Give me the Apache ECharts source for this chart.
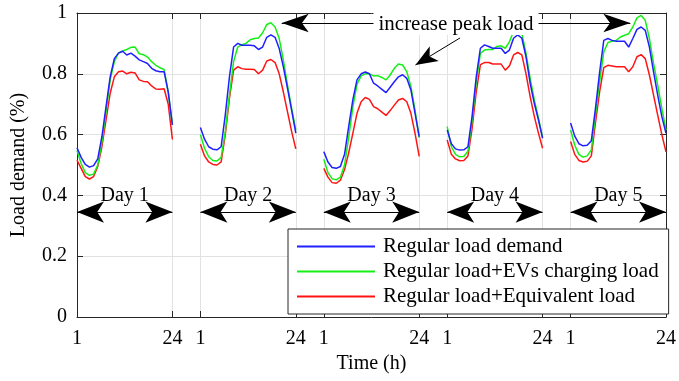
<!DOCTYPE html>
<html>
<head>
<meta charset="utf-8">
<script src="https://cdn.jsdelivr.net/npm/echarts@6/dist/echarts.min.js"></script>
<style>
  html, body { margin: 0; padding: 0; background: #fff; }
  #main { width: 679px; height: 381px; }
</style>
</head>
<body>
<div id="main"></div>
<script>
// hours of a day and the day names
var hours = [1, 2, 3, 4, 5, 6, 7, 8, 9, 10, 11, 12, 13, 14, 15, 16, 17, 18, 19, 20, 21, 22, 23, 24];
var days = ["Day 1", "Day 2", "Day 3", "Day 4", "Day 5"];
var xTickLabels = ["1", "24"];
var seriesNames = ["Regular load demand", "Regular load+EVs charging load", "Regular load+Equivalent load"];

// Regular load demand, one row per day
var regularLoad = [
  [0.557, 0.525, 0.502, 0.493, 0.498, 0.52, 0.593, 0.692, 0.79, 0.85, 0.868, 0.874, 0.862, 0.868, 0.858, 0.846, 0.84, 0.834, 0.818, 0.81, 0.807, 0.807, 0.74, 0.632],
  [0.623, 0.585, 0.56, 0.552, 0.55, 0.56, 0.665, 0.79, 0.888, 0.9, 0.894, 0.894, 0.894, 0.892, 0.88, 0.888, 0.92, 0.928, 0.92, 0.883, 0.823, 0.752, 0.68, 0.605],
  [0.544, 0.51, 0.492, 0.489, 0.495, 0.535, 0.626, 0.714, 0.78, 0.8, 0.806, 0.8, 0.769, 0.76, 0.749, 0.738, 0.756, 0.774, 0.79, 0.797, 0.785, 0.747, 0.67, 0.593],
  [0.615, 0.57, 0.553, 0.549, 0.55, 0.56, 0.66, 0.79, 0.884, 0.895, 0.89, 0.884, 0.884, 0.884, 0.867, 0.878, 0.917, 0.928, 0.917, 0.856, 0.769, 0.703, 0.648, 0.588],
  [0.638, 0.595, 0.57, 0.563, 0.565, 0.58, 0.686, 0.806, 0.91, 0.916, 0.91, 0.907, 0.907, 0.907, 0.888, 0.916, 0.946, 0.954, 0.943, 0.888, 0.806, 0.73, 0.659, 0.604]
];

// Regular load + EVs charging load
var evLoad = [
  [0.548, 0.505, 0.475, 0.466, 0.47, 0.5, 0.575, 0.675, 0.78, 0.84, 0.869, 0.875, 0.88, 0.887, 0.888, 0.866, 0.863, 0.855, 0.84, 0.828, 0.82, 0.814, 0.74, 0.632],
  [0.6, 0.555, 0.527, 0.515, 0.513, 0.525, 0.61, 0.73, 0.84, 0.888, 0.896, 0.9, 0.912, 0.916, 0.918, 0.935, 0.962, 0.968, 0.954, 0.916, 0.845, 0.763, 0.686, 0.615],
  [0.519, 0.475, 0.455, 0.451, 0.46, 0.5, 0.59, 0.69, 0.765, 0.793, 0.8, 0.8, 0.793, 0.794, 0.788, 0.78, 0.796, 0.818, 0.832, 0.829, 0.807, 0.758, 0.68, 0.59],
  [0.626, 0.56, 0.535, 0.527, 0.528, 0.545, 0.645, 0.77, 0.867, 0.878, 0.88, 0.88, 0.89, 0.892, 0.884, 0.905, 0.94, 0.95, 0.933, 0.867, 0.785, 0.714, 0.654, 0.59],
  [0.615, 0.565, 0.535, 0.526, 0.53, 0.55, 0.665, 0.774, 0.872, 0.903, 0.907, 0.91, 0.921, 0.927, 0.932, 0.954, 0.984, 0.992, 0.976, 0.916, 0.834, 0.763, 0.686, 0.615]
];

// Regular load + Equivalent load
var equivalentLoad = [
  [0.516, 0.489, 0.462, 0.454, 0.462, 0.495, 0.56, 0.648, 0.736, 0.79, 0.807, 0.809, 0.8, 0.805, 0.803, 0.78, 0.775, 0.774, 0.76, 0.75, 0.749, 0.751, 0.7, 0.584],
  [0.568, 0.53, 0.51, 0.502, 0.5, 0.51, 0.6, 0.72, 0.812, 0.823, 0.817, 0.815, 0.815, 0.814, 0.8, 0.812, 0.842, 0.847, 0.837, 0.8, 0.74, 0.675, 0.61, 0.553],
  [0.489, 0.46, 0.442, 0.44, 0.45, 0.485, 0.54, 0.604, 0.67, 0.708, 0.722, 0.716, 0.692, 0.685, 0.674, 0.663, 0.679, 0.697, 0.714, 0.719, 0.708, 0.67, 0.604, 0.528],
  [0.582, 0.535, 0.52, 0.514, 0.515, 0.53, 0.62, 0.74, 0.83, 0.837, 0.837, 0.832, 0.832, 0.832, 0.812, 0.826, 0.862, 0.87, 0.862, 0.8, 0.725, 0.66, 0.605, 0.555],
  [0.577, 0.535, 0.515, 0.51, 0.512, 0.53, 0.64, 0.741, 0.82, 0.828, 0.826, 0.823, 0.823, 0.823, 0.807, 0.823, 0.856, 0.863, 0.85, 0.796, 0.73, 0.664, 0.6, 0.543]
];

var FONT = "'Liberation Serif', 'Times New Roman', serif";
var AXIS_COLOR = "#262626";
var DAY_STRIDE = 29.75; // 23 hours of a day + blank gap before the next one

function xOf(d, h) {
  return d * DAY_STRIDE + (h - 1);
}

// flatten the days onto one x axis, break the line between days
function buildData(rows) {
  var out = [];
  rows.forEach(function (vals, d) {
    if (d > 0) out.push([xOf(d, 1) - 3, "-"]);
    vals.forEach(function (v, i) {
      out.push([xOf(d, hours[i]), v]);
    });
  });
  return out;
}

var tickPos = [];
days.forEach(function (name, d) {
  tickPos.push(xOf(d, hours[0]), xOf(d, hours[hours.length - 1]));
});

var myChart = echarts.init(document.getElementById("main"));

var dayArrows = days.map(function (name, d) {
  return [
    { coord: [xOf(d, 1), 0.345], label: { formatter: name } },
    { coord: [xOf(d, 24), 0.345] }
  ];
});

var option = {
  animation: false,
  backgroundColor: "#fff",
  grid: {
    left: 77,
    right: 9,
    top: 13,
    bottom: 64
  },
  legend: {
    orient: "vertical",
    left: 288,
    top: 229,
    padding: [7, 10, 7, 9],
    itemWidth: 78,
    itemHeight: 2,
    itemGap: 4,
    icon: "rect",
    borderColor: AXIS_COLOR,
    borderWidth: 1,
    borderRadius: 0,
    backgroundColor: "#fff",
    selectedMode: false,
    textStyle: {
      fontFamily: FONT,
      fontSize: 21,
      lineHeight: 21,
      color: "#000",
      padding: [0, 0, 0, 3]
    },
    data: seriesNames
  },
  xAxis: [
    {
      type: "value",
      min: 0,
      max: xOf(days.length - 1, 24),
      position: "bottom",
      name: "Time (h)",
      nameLocation: "middle",
      nameGap: 37,
      nameTextStyle: { fontFamily: FONT, fontSize: 20, color: "#000" },
      axisLine: { show: true, onZero: false, lineStyle: { color: AXIS_COLOR, width: 1 } },
      axisTick: { show: true, inside: true, length: 6, customValues: tickPos, lineStyle: { color: AXIS_COLOR } },
      axisLabel: {
        customValues: tickPos,
        margin: 12,
        fontFamily: FONT,
        fontSize: 20,
        color: "#000",
        formatter: function (v) {
          var i = tickPos.findIndex(function (p) { return Math.abs(p - v) < 1e-6; });
          return i < 0 ? "" : xTickLabels[i % 2];
        }
      },
      splitLine: { show: true, lineStyle: { color: "#e2e2e2", width: 1 } }
    },
    {
      type: "value",
      min: 0,
      max: xOf(days.length - 1, 24),
      position: "top",
      axisLine: { show: true, onZero: false, lineStyle: { color: AXIS_COLOR, width: 1 } },
      axisTick: { show: true, inside: true, length: 6, customValues: tickPos, lineStyle: { color: AXIS_COLOR } },
      axisLabel: { show: false },
      splitLine: { show: false }
    }
  ],
  yAxis: [
    {
      type: "value",
      min: 0,
      max: 1,
      interval: 0.2,
      position: "left",
      name: "Load demand (%)",
      nameLocation: "middle",
      nameGap: 48,
      nameRotate: 90,
      nameTextStyle: { fontFamily: FONT, fontSize: 20, color: "#000" },
      axisLine: { show: true, onZero: false, lineStyle: { color: AXIS_COLOR, width: 1 } },
      axisTick: { show: true, inside: true, length: 6, lineStyle: { color: AXIS_COLOR } },
      axisLabel: { margin: 10, fontFamily: FONT, fontSize: 20, color: "#000" },
      splitLine: { show: true, lineStyle: { color: "#e2e2e2", width: 1 } }
    },
    {
      type: "value",
      min: 0,
      max: 1,
      interval: 0.2,
      position: "right",
      axisLine: { show: true, onZero: false, lineStyle: { color: AXIS_COLOR, width: 1 } },
      axisTick: { show: true, inside: true, length: 6, lineStyle: { color: AXIS_COLOR } },
      axisLabel: { show: false },
      splitLine: { show: false }
    }
  ],
  series: [
    {
      name: seriesNames[0],
      type: "line",
      showSymbol: false,
      connectNulls: false,
      color: "#1f1fff",
      lineStyle: { width: 1.5 },
      data: buildData(regularLoad),
      z: 3,
      markLine: {
        silent: true,
        symbol: ["arrow", "arrow"],
        symbolSize: [16, 27],
        lineStyle: { color: "#000", width: 1, type: "solid" },
        label: {
          show: true,
          position: "insideMiddleTop",
          distance: 6,
          fontFamily: FONT,
          fontSize: 20,
          color: "#000"
        },
        data: dayArrows
      }
    },
    {
      name: seriesNames[1],
      type: "line",
      showSymbol: false,
      connectNulls: false,
      color: "#14f014",
      lineStyle: { width: 1.5 },
      data: buildData(evLoad),
      z: 2,
      markLine: {
        silent: true,
        symbol: ["arrow", "arrow"],
        symbolSize: [14, 27],
        lineStyle: { color: "#000", width: 1, type: "solid" },
        label: {
          show: true,
          position: "insideMiddleTop",
          distance: -12,
          fontFamily: FONT,
          fontSize: 21,
          lineHeight: 22,
          color: "#000",
          backgroundColor: "#fff",
          padding: [0, 5]
        },
        data: [
          [
            { coord: [xOf(1, 20.6), 0.967], label: { formatter: "increase peak load" } },
            { coord: [xOf(4, 15.4), 0.967] }
          ],
          [
            { coord: [xOf(3, 4.1), 0.918], symbol: "none", label: { show: false } },
            { coord: [xOf(2, 23.1), 0.829], symbol: "arrow", symbolSize: [13, 22] }
          ]
        ]
      }
    },
    {
      name: seriesNames[2],
      type: "line",
      showSymbol: false,
      connectNulls: false,
      color: "#ff1414",
      lineStyle: { width: 1.5 },
      data: buildData(equivalentLoad),
      z: 1
    }
  ]
};

myChart.setOption(option);
</script>
</body>
</html>
